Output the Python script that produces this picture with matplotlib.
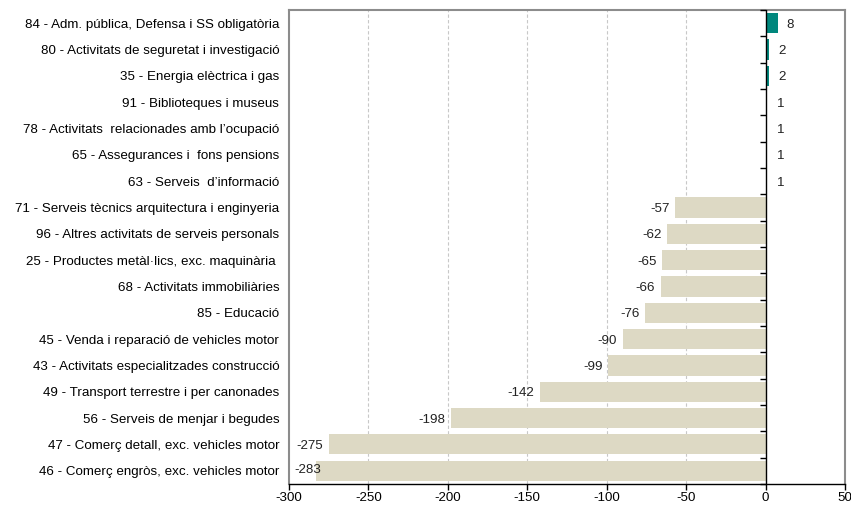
import matplotlib.pyplot as plt
import numpy as np

# sectors, top to bottom
sectors = [
    "84 - Adm. pública, Defensa i SS obligatòria",
    "80 - Activitats de seguretat i investigació",
    "35 - Energia elèctrica i gas",
    "91 - Biblioteques i museus",
    "78 - Activitats  relacionades amb l’ocupació",
    "65 - Assegurances i  fons pensions",
    "63 - Serveis  d’informació",
    "71 - Serveis tècnics arquitectura i enginyeria",
    "96 - Altres activitats de serveis personals",
    "25 - Productes metàl·lics, exc. maquinària ",
    "68 - Activitats immobiliàries",
    "85 - Educació",
    "45 - Venda i reparació de vehicles motor",
    "43 - Activitats especialitzades construcció",
    "49 - Transport terrestre i per canonades",
    "56 - Serveis de menjar i begudes",
    "47 - Comerç detall, exc. vehicles motor",
    "46 - Comerç engròs, exc. vehicles motor",
]
values = [8, 2, 2, 1, 1, 1, 1, -57, -62, -65, -66, -76, -90, -99, -142, -198, -275, -283]
x_ticks = [-300, -250, -200, -150, -100, -50, 0, 50]

plt.rcParams["font.family"] = ["Liberation Sans", "DejaVu Sans"]
plt.rcParams["font.size"] = 9.6

POS = "#00877d"
NEG = "#ddd9c4"
XMIN, XMAX = -300, 50

fig = plt.figure(figsize=(8.51, 5.05), dpi=100)
ax = fig.add_axes([0.3396, 0.0416, 0.6533, 0.9386])

y = np.arange(len(sectors))
colors = [POS if v > 0 else NEG for v in values]
ax.barh(y, values, height=0.76, color=colors, zorder=2)

for yi, v in zip(y, values):
    if v > 0:
        ax.annotate(str(v), (v, yi), xytext=(7 if v < 5 else 6, 0), textcoords="offset points",
                    ha="left", va="center_baseline", color="#222222")
    elif v - XMIN < 20:
        # no room left of the bar: keep label inside the plot area
        ax.annotate(str(v), (XMIN, yi), xytext=(4, 1.5), textcoords="offset points",
                    ha="left", va="center_baseline", color="#222222", zorder=4)
    else:
        ax.annotate(str(v), (v, yi), xytext=(-4, 0), textcoords="offset points",
                    ha="right", va="center_baseline", color="#222222")

ax.set_xlim(XMIN, XMAX)
ax.set_ylim(len(sectors) - 0.5, -0.5)
ax.set_xticks(x_ticks)
ax.set_xticklabels([str(t) for t in x_ticks])
ax.set_yticks(y)
ax.set_yticklabels(sectors)
ax.tick_params(axis="y", length=0, pad=7)
ax.tick_params(axis="x", direction="out", length=4, width=1, color="black", pad=1.5)

for t in x_ticks[1:-2]:
    ax.axvline(t, color="#c8c8c8", linestyle=(0, (3, 2)), linewidth=0.8, zorder=1)

# zero axis with category tick marks
ax.axvline(0, color="black", linewidth=1, zorder=3)
ax.plot(np.zeros(len(sectors) + 1), np.arange(len(sectors) + 1) - 0.5, linestyle="none",
        marker=0, markersize=4, color="black", markeredgewidth=1, zorder=3, clip_on=False)

for side in ["left", "top", "right"]:
    ax.spines[side].set_color("#8c8c8c")
    ax.spines[side].set_linewidth(1.5)
ax.spines["bottom"].set_color("black")
ax.spines["bottom"].set_linewidth(1)

fig.savefig("out.png", dpi=100)
